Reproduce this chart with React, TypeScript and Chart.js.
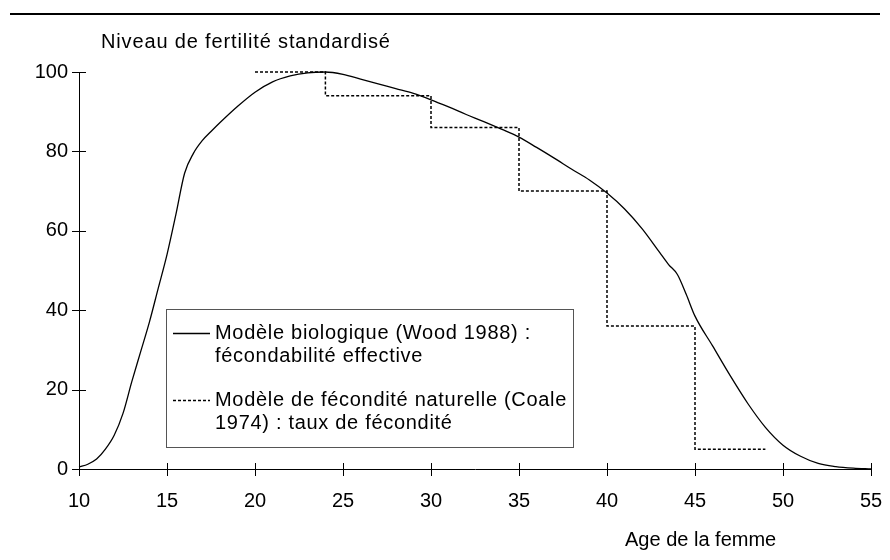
import React, { useEffect, useRef } from "react";
import { Chart, registerables } from "chart.js";

Chart.register(...registerables);

const FONT = '"Liberation Sans", Arial, Helvetica, sans-serif';

// Modèle biologique (Wood 1988) : fécondabilité effective
const woodAges = [10, 10.5, 11, 11.5, 12, 12.5, 13, 13.5, 14, 14.5, 15, 15.5, 16, 16.5, 17, 17.5, 18, 19, 20, 21, 22, 23, 24, 25, 26, 27, 28, 29, 30, 31, 32, 33, 34, 35, 36, 37, 38, 39, 40, 41, 42, 43, 43.5, 44, 44.5, 45, 46, 47, 48, 49, 50, 51, 52, 53, 54, 55];
const woodValues = [0.5, 1.2, 2.5, 5, 8.5, 14, 22, 29.5, 37, 45.5, 54, 64, 74.5, 79.5, 82.7, 85, 87.2, 91.3, 94.9, 97.5, 99, 99.8, 100, 99.4, 98.2, 97, 95.8, 94.6, 93, 91.2, 89.3, 87.5, 85.6, 83.6, 81, 78.3, 75.5, 72.8, 69.5, 65.5, 60.5, 54.5, 51.5, 49, 44, 38.5, 31, 23.5, 16.5, 10.5, 6, 3.2, 1.4, 0.6, 0.2, 0];

// Modèle de fécondité naturelle (Coale 1974) : taux de fécondité
const coaleAges = [20, 24, 30, 35, 40, 45, 49];
const coaleValues = [100, 94, 86, 70, 36, 5, 5];

const xTicks = [10, 15, 20, 25, 30, 35, 40, 45, 50, 55];
const yTicks = [0, 20, 40, 60, 80, 100];

const yTitle = "Niveau de fertilité standardisé";
const xTitle = "Age de la femme";
const legendLabels = [
  ["Modèle biologique (Wood 1988) :", "fécondabilité effective"],
  ["Modèle de fécondité naturelle (Coale", "1974) : taux de fécondité"],
];

const decor = {
  id: "decor",
  afterDraw(chart: any) {
    const { ctx, chartArea, scales } = chart;
    const xs = scales.x;
    const ys = scales.y;
    ctx.save();
    // top rule
    ctx.strokeStyle = "#000";
    ctx.lineWidth = 2;
    ctx.beginPath();
    ctx.moveTo(10, 14);
    ctx.lineTo(880, 14);
    ctx.stroke();

    // crossing ticks
    ctx.lineWidth = 1;
    xTicks.forEach((v) => {
      const px = Math.round(xs.getPixelForValue(v)) + 0.5;
      ctx.beginPath();
      ctx.moveTo(px, chartArea.bottom - 6);
      ctx.lineTo(px, chartArea.bottom + 7);
      ctx.stroke();
    });
    yTicks.forEach((v) => {
      const py = Math.round(ys.getPixelForValue(v)) + 0.5;
      ctx.beginPath();
      ctx.moveTo(chartArea.left - 7, py);
      ctx.lineTo(chartArea.left + 7, py);
      ctx.stroke();
    });

    // axis titles
    ctx.fillStyle = "#000";
    ctx.font = `20px ${FONT}`;
    ctx.textBaseline = "middle";
    ctx.textAlign = "left";
    ctx.fillText(xTitle, 625, 540);
    (ctx as any).letterSpacing = "0.85px";
    ctx.fillText(yTitle, chartArea.left + 22, 42);

    // legend
    const lx = 166, ly = 309, lw = 407, lh = 138;
    ctx.fillStyle = "#fff";
    ctx.fillRect(lx, ly, lw, lh);
    ctx.strokeStyle = "#555";
    ctx.lineWidth = 1;
    ctx.strokeRect(lx + 0.5, ly + 0.5, lw, lh);
    const rows = [333, 400];
    (ctx as any).letterSpacing = "0.7px";
    chart.data.datasets.forEach((ds: any, i: number) => {
      const y = rows[i];
      ctx.strokeStyle = ds.borderColor;
      ctx.lineWidth = ds.borderWidth;
      ctx.setLineDash(ds.borderDash || []);
      ctx.beginPath();
      ctx.moveTo(lx + 7, y + 0.5);
      ctx.lineTo(lx + 44, y + 0.5);
      ctx.stroke();
      ctx.setLineDash([]);
      ctx.fillStyle = "#000";
      ctx.fillText(legendLabels[i][0], lx + 49, y);
      ctx.fillText(legendLabels[i][1], lx + 49, y + 23);
    });
    (ctx as any).letterSpacing = "0px";
    ctx.restore();
  },
};

export default function App() {
  const ref = useRef<HTMLCanvasElement>(null);
  useEffect(() => {
    const chart = new Chart(ref.current!, {
      type: "line",
      data: {
        datasets: [
          {
            label: legendLabels[0].join(" "),
            data: woodAges.map((a, i) => ({ x: a, y: woodValues[i] })),
            borderColor: "#000",
            borderWidth: 1.3,
            pointRadius: 0,
            cubicInterpolationMode: "monotone",
            fill: false,
            clip: false,
          },
          {
            label: legendLabels[1].join(" "),
            data: coaleAges.map((a, i) => ({ x: a, y: coaleValues[i] })),
            borderColor: "#000",
            borderWidth: 1.5,
            borderDash: [3, 2],
            pointRadius: 0,
            stepped: "before",
            fill: false,
            clip: false,
          },
        ],
      },
      options: {
        animation: false,
        responsive: false,
        maintainAspectRatio: false,
        layout: { padding: { left: 0, top: 72, right: 19, bottom: 0 } },
        plugins: { legend: { display: false }, tooltip: { enabled: false } },
        scales: {
          x: {
            type: "linear",
            min: 10,
            max: 55,
            afterBuildTicks: (s: any) => {
              s.ticks = xTicks.map((v) => ({ value: v }));
            },
            afterFit: (s: any) => {
              s.height = 91;
              s.paddingLeft = 0;
              s.paddingRight = 0;
            },
            grid: { display: false, drawTicks: false },
            border: { display: true, color: "#000", width: 1 },
            ticks: { color: "#000", font: { family: FONT, size: 20 }, padding: 20, maxRotation: 0, autoSkip: false },
          },
          y: {
            type: "linear",
            min: 0,
            max: 100,
            afterBuildTicks: (s: any) => {
              s.ticks = yTicks.map((v) => ({ value: v }));
            },
            afterFit: (s: any) => {
              s.width = 79;
              s.paddingTop = 0;
              s.paddingBottom = 0;
            },
            grid: { display: false, drawTicks: false },
            border: { display: true, color: "#000", width: 1 },
            ticks: { color: "#000", font: { family: FONT, size: 20 }, padding: 11 },
          },
        },
      },
      plugins: [decor],
    });
    return () => chart.destroy();
  }, []);
  return (
    <div style={{ position: "fixed", left: 0, top: 0, width: 890, height: 560, background: "#fff" }}>
      <canvas ref={ref} width={890} height={560} style={{ width: 890, height: 560 }} />
    </div>
  );
}
